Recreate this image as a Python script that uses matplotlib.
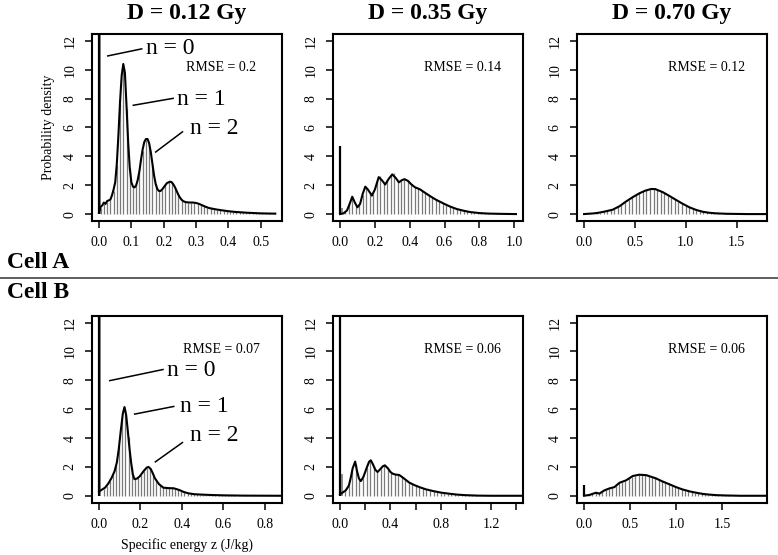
import numpy as np
import matplotlib
matplotlib.use('Agg')
import matplotlib.pyplot as plt
from matplotlib.lines import Line2D

plt.rcParams['font.family'] = ['Liberation Serif', 'DejaVu Serif']

# ---- data ----
doses = ['D = 0.12 Gy', 'D = 0.35 Gy', 'D = 0.70 Gy']
cells = ['Cell A', 'Cell B']
rmse = [['RMSE = 0.2', 'RMSE = 0.14', 'RMSE = 0.12'],
        ['RMSE = 0.07', 'RMSE = 0.06', 'RMSE = 0.06']]

# Cell A, 0.12 Gy
a1_curve_z = [0.0, 0.005, 0.01, 0.015, 0.02, 0.025, 0.03, 0.035, 0.04, 0.045, 0.05, 0.055,
              0.06, 0.065, 0.07, 0.075, 0.08, 0.085, 0.09, 0.095, 0.1, 0.105, 0.11, 0.115,
              0.12, 0.125, 0.13, 0.135, 0.14, 0.145, 0.15, 0.155, 0.16, 0.165, 0.17, 0.175,
              0.18, 0.185, 0.19, 0.195, 0.2, 0.205, 0.21, 0.215, 0.22, 0.225, 0.23, 0.235,
              0.24, 0.245, 0.25, 0.255, 0.26, 0.265, 0.27, 0.28, 0.29, 0.3, 0.31, 0.32,
              0.33, 0.34, 0.36, 0.38, 0.4, 0.42, 0.44, 0.46, 0.48, 0.5, 0.52, 0.545]
a1_curve_p = [0.1, 0.5, 0.6, 0.8, 0.7, 0.9, 0.95, 1.0, 1.3, 1.7, 2.2, 3.5,
              5.5, 7.8, 9.6, 10.4, 9.8, 7.5, 5.0, 3.2, 2.2, 1.9, 1.85, 2.0,
              2.4, 3.0, 3.8, 4.5, 5.0, 5.2, 5.2, 4.9, 4.3, 3.5, 2.7, 2.1,
              1.75, 1.6, 1.6, 1.7, 1.85, 2.0, 2.15, 2.2, 2.25, 2.2, 2.05, 1.85,
              1.6, 1.35, 1.15, 1.0, 0.9, 0.85, 0.82, 0.8, 0.8, 0.77, 0.7, 0.6,
              0.5, 0.42, 0.33, 0.26, 0.2, 0.15, 0.12, 0.09, 0.07, 0.05, 0.04, 0.03]
a1_hist = [0.4, 0.7, 0.85, 1.0, 1.6, 3.4, 7.6, 10.2, 7.3, 3.2, 1.9, 2.0, 2.9, 4.4, 5.1,
           4.8, 3.4, 2.1, 1.6, 1.7, 2.0, 2.2, 2.2, 1.8, 1.3, 1.0, 0.85, 0.8, 0.8, 0.78,
           0.72, 0.64, 0.54, 0.45, 0.4, 0.35, 0.31, 0.28, 0.25, 0.21, 0.19, 0.16, 0.14,
           0.12, 0.11, 0.09, 0.08, 0.07, 0.06, 0.05, 0.05, 0.04, 0.04, 0.03, 0.03]

# Cell A, 0.35 Gy
a2_curve_z = [0.0, 0.02, 0.04, 0.055, 0.07, 0.085, 0.1, 0.115, 0.13, 0.145, 0.16, 0.183,
              0.2, 0.222, 0.24, 0.259, 0.28, 0.3, 0.32, 0.338, 0.355, 0.37, 0.39, 0.41,
              0.43, 0.458, 0.485, 0.515, 0.55, 0.593, 0.63, 0.67, 0.71, 0.747, 0.8, 0.85,
              0.9, 0.95, 1.01]
a2_curve_p = [0.0, 0.05, 0.25, 0.7, 1.2, 0.8, 0.47, 0.7, 1.4, 1.9, 1.7, 1.28,
              1.7, 2.56, 2.35, 2.05, 2.45, 2.75, 2.5, 2.2, 2.35, 2.42, 2.3, 2.05,
              1.86, 1.72, 1.5, 1.26, 1.0, 0.74, 0.53, 0.35, 0.23, 0.14, 0.07, 0.035,
              0.02, 0.01, 0.0]
a2_hist = [0.15, 0.6, 1.15, 0.65, 0.6, 1.3, 1.85, 1.5, 1.4, 2.3, 2.65, 2.15, 2.3, 2.75,
           2.85, 2.3, 2.3, 2.45, 2.3, 2.05, 1.85, 1.8, 1.65, 1.45, 1.3, 1.15, 1.0, 0.88,
           0.76, 0.64, 0.54, 0.44, 0.36, 0.29, 0.23, 0.18, 0.14, 0.11, 0.08, 0.06, 0.05,
           0.04, 0.03, 0.02, 0.02, 0.01, 0.01, 0.01, 0.0, 0.0]

# Cell A, 0.70 Gy
a3_curve_z = [0.0, 0.1, 0.15, 0.2, 0.28, 0.35, 0.41, 0.48, 0.544, 0.6, 0.66, 0.7,
              0.773, 0.84, 0.904, 0.97, 1.035, 1.1, 1.166, 1.23, 1.3, 1.4, 1.5, 1.6, 1.797]
a3_curve_p = [0.0, 0.05, 0.1, 0.17, 0.3, 0.55, 0.86, 1.18, 1.44, 1.62, 1.74, 1.73,
              1.52, 1.25, 0.98, 0.71, 0.47, 0.29, 0.16, 0.09, 0.05, 0.02, 0.01, 0.0, 0.0]
a3_hist = [0.0, 0.01, 0.03, 0.06, 0.1, 0.15, 0.2, 0.27, 0.36, 0.5, 0.65, 0.82, 1.0, 1.15,
           1.3, 1.45, 1.58, 1.68, 1.75, 1.76, 1.7, 1.6, 1.47, 1.33, 1.17, 1.02, 0.86,
           0.72, 0.58, 0.47, 0.37, 0.28, 0.21, 0.16, 0.12, 0.09, 0.06, 0.05, 0.03, 0.02,
           0.02, 0.01, 0.01, 0.01, 0.0, 0.0, 0.0, 0.0, 0.0, 0.0, 0.0]

# Cell B, 0.12 Gy
b1_curve_z = [0.0, 0.029, 0.045, 0.061, 0.075, 0.086, 0.095, 0.105, 0.115, 0.123, 0.131,
              0.139, 0.147, 0.155, 0.163, 0.171, 0.185, 0.198, 0.215, 0.23, 0.239, 0.25,
              0.26, 0.27, 0.29, 0.311, 0.335, 0.36, 0.375, 0.391, 0.41, 0.432, 0.46, 0.496,
              0.55, 0.6, 0.7, 0.884]
b1_curve_p = [0.3, 0.56, 0.85, 1.25, 1.7, 2.3, 3.2, 4.5, 5.7, 6.15, 5.6,
              4.5, 3.3, 2.3, 1.5, 1.15, 1.2, 1.37, 1.7, 1.95, 2.0, 1.85,
              1.55, 1.21, 0.8, 0.56, 0.53, 0.52, 0.46, 0.38, 0.26, 0.17, 0.11, 0.08,
              0.05, 0.03, 0.01, 0.0]
b1_hist = [0.45, 0.7, 1.0, 1.45, 2.1, 3.5, 5.4, 6.0, 4.1, 2.0, 1.15, 1.25, 1.45, 1.75,
           1.95, 1.9, 1.45, 1.0, 0.75, 0.58, 0.55, 0.53, 0.52, 0.49, 0.42, 0.34, 0.25,
           0.18, 0.14, 0.11, 0.1, 0.08, 0.07, 0.06, 0.05, 0.05, 0.04, 0.04, 0.03, 0.03,
           0.02, 0.02, 0.02, 0.01, 0.01, 0.01, 0.0, 0.0, 0.0, 0.0, 0.0, 0.0, 0.0, 0.0,
           0.0, 0.0, 0.0, 0.0]

# Cell B, 0.35 Gy
b2_curve_z = [0.0, 0.045, 0.07, 0.085, 0.1, 0.12, 0.135, 0.15, 0.165, 0.185, 0.21, 0.23,
              0.244, 0.26, 0.28, 0.298, 0.32, 0.34, 0.356, 0.38, 0.4, 0.418, 0.44, 0.47,
              0.5, 0.55, 0.59, 0.63, 0.68, 0.737, 0.8, 0.87, 0.93, 1.0, 1.1, 1.2, 1.452]
b2_curve_p = [0.1, 0.37, 0.7, 1.25, 1.9, 2.37, 1.7, 1.2, 1.02, 1.3, 1.9, 2.35,
              2.46, 2.2, 1.8, 1.65, 1.85, 2.05, 2.11, 1.9, 1.65, 1.53, 1.47, 1.44,
              1.25, 0.91, 0.74, 0.6, 0.45, 0.33, 0.22, 0.14, 0.08, 0.04, 0.01, 0.0, 0.0]
b2_hist = [0.3, 0.7, 1.8, 2.2, 1.15, 1.25, 1.9, 2.45, 2.05, 1.7, 1.85, 2.1, 1.9, 1.6,
           1.5, 1.45, 1.3, 1.1, 0.93, 0.8, 0.7, 0.6, 0.52, 0.44, 0.38, 0.32, 0.27, 0.22,
           0.18, 0.15, 0.12, 0.1, 0.08, 0.06, 0.04, 0.03, 0.02, 0.02, 0.01, 0.01,
           0.0, 0.0, 0.0, 0.0, 0.0, 0.0, 0.0, 0.0, 0.0, 0.0, 0.0]

# Cell B, 0.70 Gy
b3_curve_z = [0.0, 0.02, 0.06, 0.1, 0.13, 0.167, 0.22, 0.276, 0.33, 0.385, 0.457, 0.53,
              0.6, 0.675, 0.78, 0.85, 0.93, 1.0, 1.07, 1.15, 1.22, 1.29, 1.36, 1.45,
              1.55, 1.7, 1.988]
b3_curve_p = [0.0, 0.02, 0.06, 0.15, 0.21, 0.15, 0.37, 0.51, 0.6, 0.9, 1.07, 1.37,
              1.46, 1.43, 1.21, 1.0, 0.79, 0.6, 0.44, 0.3, 0.21, 0.13, 0.08, 0.04,
              0.02, 0.0, 0.0]
b3_hist = [0.0, 0.05, 0.12, 0.2, 0.17, 0.3, 0.42, 0.5, 0.55, 0.7, 0.88, 0.97, 1.05, 1.2,
           1.33, 1.4, 1.45, 1.46, 1.44, 1.4, 1.32, 1.22, 1.12, 1.01, 0.9, 0.8, 0.7, 0.61,
           0.52, 0.45, 0.38, 0.31, 0.26, 0.21, 0.17, 0.14, 0.11, 0.08, 0.06, 0.05, 0.04,
           0.03, 0.02, 0.02, 0.01, 0.01, 0.0, 0.0, 0.0, 0.0, 0.0, 0.0, 0.0, 0.0, 0.0]

# histogram bin layout (first centre, spacing) per panel
hist_start = [[0.005, 0.03, 0.0175], [0.0225, 0.042, 0.018]]
hist_step = [[0.01, 0.02, 0.035], [0.015, 0.028, 0.036]]

# n = 0 contribution: model spike height and histogram spike (position, height)
spike_model = [[40, 4.75, None], [40, 40, 0.75]]
spike_hist = [[(0.004, 40), (0.01, 0.4), None], [(0.006, 40), (0.016, 1.5), None]]

xmax = [[0.544, 1.01, 1.728], [0.85, 1.396, 1.912]]
xticks = [[[0, 0.1, 0.2, 0.3, 0.4, 0.5], [0, 0.2, 0.4, 0.6, 0.8, 1.0], [0, 0.5, 1.0, 1.5]],
          [[0, 0.2, 0.4, 0.6, 0.8], [0, 0.2, 0.4, 0.6, 0.8, 1.0, 1.2, 1.4], [0, 0.5, 1.0, 1.5]]]
xticklabels = [[['0.0', '0.1', '0.2', '0.3', '0.4', '0.5'],
                ['0.0', '0.2', '0.4', '0.6', '0.8', '1.0'],
                ['0.0', '0.5', '1.0', '1.5']],
               [['0.0', '0.2', '0.4', '0.6', '0.8'],
                ['0.0', '', '0.4', '', '0.8', '', '1.2', ''],
                ['0.0', '0.5', '1.0', '1.5']]]

curves = [[(a1_curve_z, a1_curve_p), (a2_curve_z, a2_curve_p), (a3_curve_z, a3_curve_p)],
          [(b1_curve_z, b1_curve_p), (b2_curve_z, b2_curve_p), (b3_curve_z, b3_curve_p)]]
hists = [[a1_hist, a2_hist, a3_hist], [b1_hist, b2_hist, b3_hist]]

# annotation lines for the n = 0, 1, 2 labels: (line start, line end, text pos)
labels_n = ['n = 0', 'n = 1', 'n = 2']
ann_a = [((0.027, 10.96), (0.132, 11.45), (0.145, 11.45)),
         ((0.106, 7.54), (0.229, 8.02), (0.24, 7.95)),
         ((0.175, 4.3), (0.258, 5.7), (0.28, 5.9))]
ann_b = [((0.052, 7.98), (0.309, 8.75), (0.33, 8.68)),
         ((0.172, 5.66), (0.361, 6.19), (0.39, 6.19)),
         ((0.272, 2.35), (0.403, 3.69), (0.44, 4.2))]

# ---- figure ----
fig = plt.figure(figsize=(7.78, 5.55), dpi=100)
col_x = [92, 333, 577]
row_top = [34, 315.7]
W, H = 778.0, 555.0

for r in range(2):
    for c in range(3):
        ax = fig.add_axes([col_x[c] / W, 1 - (row_top[r] + 187) / H, 190 / W, 187 / H])
        step = hist_step[r][c]
        hx = hist_start[r][c] + step * np.arange(len(hists[r][c]))
        ax.vlines(hx, 0, hists[r][c], color='#7a7a7a', lw=0.9)
        if spike_hist[r][c] is not None:
            sx, sh = spike_hist[r][c]
            ax.vlines(sx, 0, sh, color='#7a7a7a', lw=1.2)
        if spike_model[r][c] is not None:
            ax.vlines(0, 0, spike_model[r][c], color='black', lw=1.6)
        cz, cp = curves[r][c]
        ax.plot(cz, cp, color='black', lw=1.5, solid_joinstyle='round')

        pad = 0.04 * xmax[r][c]
        ax.set_xlim(-pad, xmax[r][c] + pad)
        ax.set_ylim(-0.48, 12.48)
        ax.set_yticks([0, 2, 4, 6, 8, 10, 12])
        ax.set_yticklabels(['0', '2', '4', '6', '8', '10', '12'], rotation=90, va='center')
        ax.set_xticks(xticks[r][c])
        ax.set_xticklabels(xticklabels[r][c])
        ax.tick_params(direction='out', length=5, width=1.1, labelsize=10, pad=6)
        for s in ax.spines.values():
            s.set_linewidth(1.5)
        ax.text(0.68, 10.15, rmse[r][c], transform=ax.get_yaxis_transform(),
                ha='center', va='center', fontsize=10)

        if c == 0:
            ann = ann_a if r == 0 else ann_b
            for lab, (p0, p1, pt) in zip(labels_n, ann):
                ax.plot([p0[0], p1[0]], [p0[1], p1[1]], color='black', lw=1.1)
                ax.text(pt[0], pt[1], lab, ha='left', va='center', fontsize=17)
        if r == 0 and c == 0:
            ax.set_ylabel('Probability density', fontsize=10, labelpad=6)
        if r == 1 and c == 0:
            ax.set_xlabel('Specific energy z (J/kg)', fontsize=10, labelpad=5)

col_center = [187, 427.5, 672]
for c in range(3):
    fig.text(col_center[c] / W, 1 - 13 / H, doses[c], ha='center', va='center',
             fontsize=17, fontweight='bold')

fig.text(7 / W, 1 - 263 / H, cells[0], ha='left', va='center', fontsize=17, fontweight='bold')
fig.text(7 / W, 1 - 293 / H, cells[1], ha='left', va='center', fontsize=17, fontweight='bold')
fig.add_artist(Line2D([0, 1], [1 - 278 / H, 1 - 278 / H], color='#333333', lw=1.1))

fig.savefig('out.png', dpi=100)
